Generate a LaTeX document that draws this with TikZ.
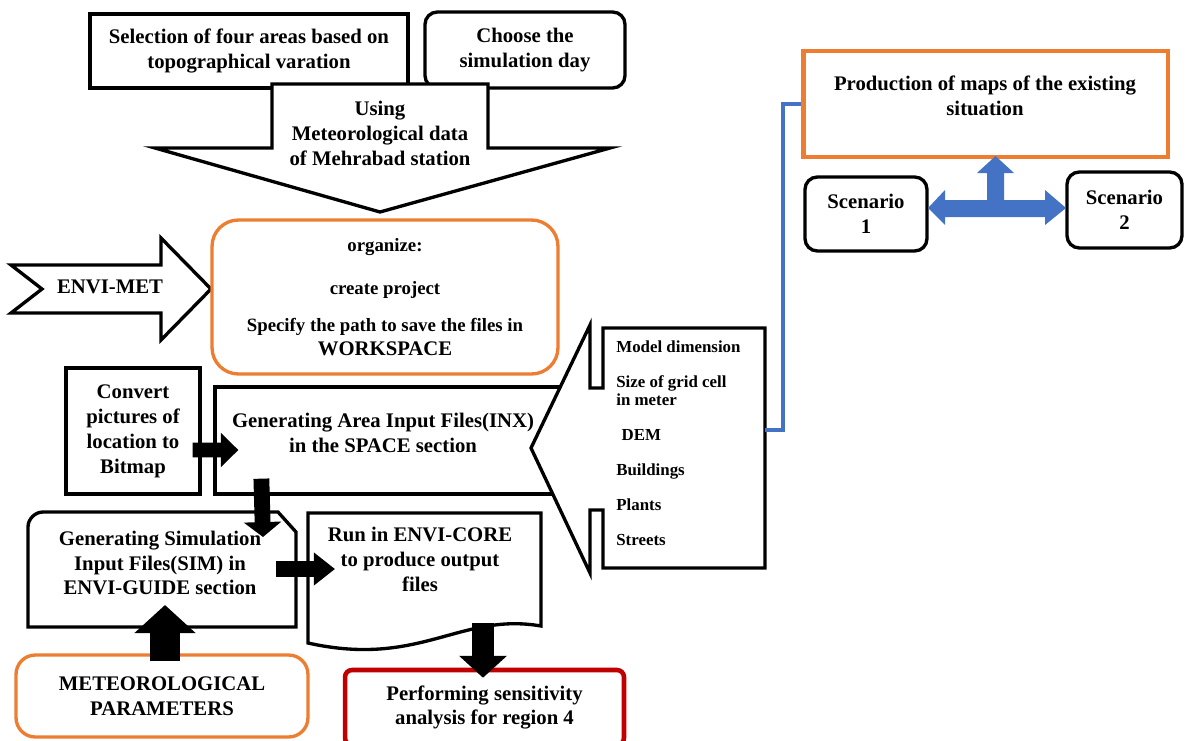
\documentclass[tikz,border=0pt]{standalone}
\usepackage{fontspec}
\setmainfont{Liberation Serif}
\usetikzlibrary{arrows.meta, calc, positioning}
\definecolor{orng}{HTML}{ED7D31}
\definecolor{blu}{HTML}{4472C4}
\definecolor{dred}{HTML}{C00000}
\tikzset{
    txt/.style = {align=center, inner sep=0pt, font=\bfseries\fontsize{11.8}{14.2}\selectfont}, % all the text of the chart is bold Times
    box/.style = {draw, line width=1.9pt, txt},
    rbox/.style = {box, rounded corners=7pt},
    obox/.style = {draw=orng, line width=1.9pt, rounded corners=15pt, txt},
    outl/.style = {draw, line width=1.9pt, fill=white, line join=miter}, % outline of the drawn block shapes
    blkarrow/.style args = {#1/#2/#3}{line width=#1, -{Triangle[length=#2, width=#3]}}, % shaft / head length / head width
    conn/.style = {draw=blu, line width=1.8pt}
}
\begin{document}
\begin{tikzpicture}[x=0.02cm, y=-0.02cm] % one unit is one pixel of the sketch, y downwards
    \useasboundingbox (0,0) rectangle (1185,740);

    % top row
    \node[box, minimum width=6.36cm, minimum height=1.48cm] (sel) at (249,51) {Selection of four areas based on\\topographical varation};
    \node[rbox, minimum width=4cm, minimum height=1.52cm] (day) at (525,50) {Choose the\\simulation day};

    % big arrow down
    \draw[outl] (272,84) -- (488,84) -- (488,148) -- (610,148) -- (380,212) -- (155,148) -- (272,148) -- cycle;
    \node[txt] (use) at (380,133) {Using\\Meteorological data\\of Mehrabad station};

    % ENVI-MET arrow
    \draw[outl] (11,265) -- (161,265) -- (161,238) -- (211,289) -- (161,340) -- (161,313) -- (11,313) -- (42,289) -- cycle;
    \node[txt] (envi) at (110,287) {ENVI-MET};

    \node[obox, minimum width=6.92cm, minimum height=3.08cm, font=\bfseries\fontsize{10.7}{13}\selectfont] (org) at (385,297)
        {organize:\\[11.4pt]create project\\[8pt]Specify the path to save the files in\\[0.5pt]{\fontsize{11.8}{14.2}\selectfont WORKSPACE}};

    % middle row
    \node[box, minimum width=2.68cm, minimum height=2.52cm] (conv) at (133,431) {Convert\\pictures of\\location to\\Bitmap};
    \node[box, minimum width=7cm, minimum height=2.14cm] (area) at (390,440.5) {};
    \node[txt] (areaT) at (383,433) {Generating Area Input Files(INX)\\in the SPACE section};

    % list with its arrow pointing left
    \draw[outl] (603,328) -- (765,328) -- (765,568) -- (603,568) -- (603,510) -- (590,510) -- (590,573) -- (531,448)
        -- (590,325) -- (590,388) -- (603,388) -- cycle;
    \node[txt, align=left, anchor=north west, font=\bfseries\fontsize{9.6}{10.2}\selectfont] (lst) at (616,340)
        {Model dimension\\[9.8pt]Size of grid cell\\in meter\\[9.8pt]\hspace*{3pt}DEM\\[9.8pt]Buildings\\[9.8pt]Plants\\[9.8pt]Streets};
    \coordinate (lstE) at (765,430);

    % right part
    \node[draw=orng, line width=2.8pt, minimum width=7.3cm, minimum height=2.12cm] (prod) at (985.5,104) {};
    \node[txt] (prodT) at (985,96) {Production of maps of the existing\\situation};
    \node[rbox, minimum width=2.44cm, minimum height=1.48cm] (sc1) at (866,214) {Scenario\\1};
    \node[rbox, minimum width=2.3cm, minimum height=1.52cm] (sc2) at (1124.5,210) {Scenario\\2};
    \fill[blu] (928,208) -- (945,190) -- (945,200) -- (987,200) -- (987,173) -- (977,173) -- (995.5,156) -- (1014,173)
        -- (1004,173) -- (1004,200) -- (1045,200) -- (1045,190) -- (1066,208) -- (1045,225) -- (1045,217) -- (945,217)
        -- (945,225) -- cycle;
    \draw[conn] (lstE) -- ++(18,0) |- (prod.west);

    % bottom row
    \draw[outl] (28,627) -- (28,527) .. controls (28,519) and (35,512) .. (43,512) -- (278,512) -- (296,532) -- (296,627) -- cycle;
    \node[txt] (simT) at (160,563) {Generating Simulation\\Input Files(SIM) in\\ENVI-GUIDE section};
    \draw[outl] (308,513) -- (541,513) -- (541,626) .. controls (460,612) and (420,668) .. (308,643) -- cycle;
    \node[txt] (runT) at (420,559) {Run in ENVI-CORE\\to produce output\\files};
    \node[obox, rounded corners=11pt, minimum width=5.84cm, minimum height=1.64cm] (mp) at (162,696) {METEOROLOGICAL\\PARAMETERS};
    \node[draw=dred, line width=2.6pt, rounded corners=4pt, txt, minimum width=5.58cm, minimum height=1.5cm] (perf) at (484.5,707.5)
        {Performing sensitivity\\analysis for region 4};

    % black block arrows
    \draw[blkarrow=8.5pt/10pt/19pt] ($(conv.east)+(-9,19)$) -- ($(area.west)+(25,9.5)$);
    \draw[blkarrow=9pt/8.5pt/21pt] ($(area.south west)+(48,-17)$) -- ($(simT)+(103,-26)$);
    \draw[blkarrow=9.6pt/12pt/18pt] ($(simT)+(116,6)$) -- ($(runT)+(-85,10)$);
    \draw[blkarrow=17.6pt/16pt/34pt] ($(mp.north)+(3,8)$) -- ($(simT)+(5,42)$);
    \draw[blkarrow=13pt/12.5pt/26.6pt] ($(runT)+(63,64)$) -- ($(perf.north)+(-1.5,10)$);
\end{tikzpicture}
\end{document}
